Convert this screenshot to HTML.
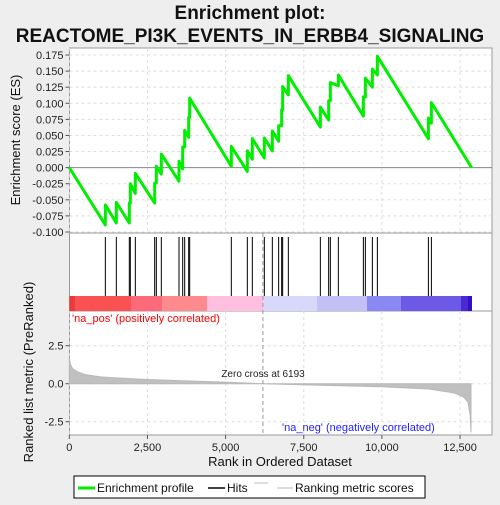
<!DOCTYPE html>
<html><head><meta charset="utf-8"><style>
body{margin:0;background:#eeeeee;}
svg{font-family:"Liberation Sans",sans-serif;}
</style></head><body>
<svg id="c" width="500" height="500"></svg>
<script>
const hitRanks=[1153,1504,1920,1952,2112,2731,2784,2944,3509,3627,3691,3819,3851,5183,5695,5855,6239,6495,6697,6793,6825,7007,8031,8297,8351,8607,9407,9471,9695,9855,11487,11583];
const esBefore=[-0.089,-0.086,-0.086,-0.055,-0.040,-0.055,-0.024,-0.010,-0.021,-0.002,0.032,0.047,0.078,0.002,-0.006,0.013,0.015,0.026,0.041,0.065,0.090,0.113,0.063,0.074,0.104,0.127,0.080,0.110,0.125,0.144,0.045,0.069];
const esAfter=[-0.058,-0.054,-0.055,-0.025,-0.009,-0.024,0.002,0.021,0.010,0.032,0.058,0.078,0.108,0.033,0.026,0.045,0.046,0.057,0.065,0.090,0.126,0.143,0.094,0.104,0.132,0.144,0.110,0.139,0.153,0.173,0.077,0.101];
const totalRanks=12870;
const metricRanks=[0,30,100,250,500,1000,1500,2500,3500,5000,6193,8000,10000,11500,12300,12600,12750,12820,12850];
const metricVals=[1.7,1.3,1.0,0.8,0.6,0.45,0.38,0.28,0.2,0.1,0,-0.1,-0.2,-0.35,-0.6,-0.85,-1.2,-2.0,-3.2];
const esTicks=[0.175,0.15,0.125,0.1,0.075,0.05,0.025,0,-0.025,-0.05,-0.075,-0.1];
const xTicks=[0,2500,5000,7500,10000,12500];
const xTickLabels=["0","2,500","5,000","7,500","10,000","12,500"];
const mTicks=[2.5,0,-2.5];
const mTickLabels=["2.5","0.0","-2.5"];

const NS="http://www.w3.org/2000/svg",svg=document.getElementById('c');
function el(t,a,p){const e=document.createElementNS(NS,t);for(const k in a)e.setAttribute(k,a[k]);(p||svg).appendChild(e);return e;}
const L=69.5,R=492;
const X=r=>69.3+r*0.03126;
const Y=v=>55+(0.175-v)*643.6;
const YM=v=>383.7-v*15.2;

let t=el('text',{x:250,y:19,'text-anchor':'middle','font-size':19,'font-weight':'bold',fill:'#111'});t.textContent='Enrichment plot:';

t=el('text',{x:250,y:42,'text-anchor':'middle','font-size':19,'font-weight':'bold',fill:'#111'});t.textContent='REACTOME_PI3K_EVENTS_IN_ERBB4_SIGNALING';


// panels
let p=el('rect',{x:L,y:48,width:R-L,height:185,fill:'#fff',stroke:'#999'});

p=el('rect',{x:L,y:233,width:R-L,height:78,fill:'#fff',stroke:'#999'});

p=el('rect',{x:L,y:311,width:R-L,height:124,fill:'#fff',stroke:'#999'});


// grids
xTicks.forEach(v=>{
 [[48,233],[311,435]].forEach(s=>{const g=el('line',{x1:X(v),x2:X(v),y1:s[0],y2:s[1],stroke:'#ddd','stroke-dasharray':'3,3'});});
});
esTicks.forEach(v=>{
 const g=el('line',{x1:L,x2:R,y1:Y(v),y2:Y(v),stroke:'#ddd','stroke-dasharray':'3,3'});
 const tk=el('line',{x1:L-4,x2:L,y1:Y(v),y2:Y(v),stroke:'#555'});
 const tl=el('text',{x:L-6,y:Y(v)+4,'text-anchor':'end','font-size':11,fill:'#222'});tl.textContent=v.toFixed(3);
 
});
let z=el('line',{x1:L,x2:R,y1:Y(0),y2:Y(0),stroke:'#888'});

// ES line
let pts=[[X(0),Y(0)]];
hitRanks.forEach((r,i)=>{pts.push([X(r),Y(esBefore[i])]);pts.push([X(r),Y(esAfter[i])]);});
pts.push([X(totalRanks),Y(0)]);
let es=el('polyline',{points:pts.map(q=>q.join(',')).join(' '),fill:'none',stroke:'#00ee00','stroke-width':3,'stroke-linejoin':'round'});


// hits
hitRanks.forEach(r=>{const h=el('line',{x1:X(r),x2:X(r),y1:237,y2:296,stroke:'#000','stroke-width':1});});

// color bar
const segs=[[69.3,75,'#e83c3c'],[75,131,'#fa5252'],[131,162,'#ff6a7a'],[162,207,'#ff8a8e'],[207,263,'#ffc0e0'],[263,317,'#d8d8fa'],[317,367,'#c2c0f4'],[367,401,'#8a88f2'],[401,461,'#6c5ae6'],[461,468,'#4a28d4'],[468,472,'#3510c2']];
segs.forEach(s=>{const b=el('rect',{x:s[0],y:296,width:s[1]-s[0],height:15,fill:s[2]});});
t=el('text',{x:72,y:322,'font-size':11,fill:'#f00'});t.textContent="'na_pos' (positively correlated)";


// metric
mTicks.forEach((v,i)=>{
 const g=el('line',{x1:L,x2:R,y1:YM(v),y2:YM(v),stroke:'#ddd','stroke-dasharray':'3,3'});
 const tk=el('line',{x1:L-4,x2:L,y1:YM(v),y2:YM(v),stroke:'#555'});
 const tl=el('text',{x:L-6,y:YM(v)+4,'text-anchor':'end','font-size':11,fill:'#222'});tl.textContent=mTickLabels[i];
 
});
let mp=[[X(0),YM(0)]];metricRanks.forEach((r,i)=>mp.push([X(r),YM(metricVals[i])]));mp.push([X(metricRanks[metricRanks.length-1]),YM(0)]);
let ma=el('polygon',{points:mp.map(q=>q.join(',')).join(' '),fill:'#c0c0c0',stroke:'#b8b8b8'});

let zc=el('line',{x1:X(6193),x2:X(6193),y1:233,y2:435,stroke:'#999','stroke-dasharray':'4,3'});

t=el('text',{x:263,y:377,'text-anchor':'middle','font-size':10,fill:'#222'});t.textContent='Zero cross at 6193';

t=el('text',{x:282,y:431,'font-size':11,fill:'#22f'});t.textContent="'na_neg' (negatively correlated)";


xTicks.forEach((v,i)=>{
 const tk=el('line',{x1:X(v),x2:X(v),y1:435,y2:439,stroke:'#555'});
 const tl=el('text',{x:X(v),y:451,'text-anchor':'middle','font-size':11,fill:'#222'});tl.textContent=xTickLabels[i];
 
});
t=el('text',{x:280,y:466,'text-anchor':'middle','font-size':13,fill:'#111'});t.textContent='Rank in Ordered Dataset';

t=el('text',{x:0,y:0,'text-anchor':'middle','font-size':13,fill:'#111',transform:'translate(20,140) rotate(-90)'});t.textContent='Enrichment score (ES)';

t=el('text',{x:0,y:0,'text-anchor':'middle','font-size':13,fill:'#111',transform:'translate(33,372) rotate(-90)'});t.textContent='Ranked list metric (PreRanked)';


// legend
let lg=el('rect',{x:74,y:476,width:351,height:22,fill:'#fff',stroke:'#000'});

let a=el('line',{x1:78,x2:95,y1:488,y2:488,stroke:'#00ee00','stroke-width':3});
t=el('text',{x:97,y:492,'font-size':12,fill:'#111'});t.textContent='Enrichment profile';
a=el('line',{x1:208,x2:225,y1:488,y2:488,stroke:'#000','stroke-width':1.5});
t=el('text',{x:227,y:492,'font-size':12,fill:'#111'});t.textContent='Hits';
a=el('line',{x1:254,x2:268,y1:483,y2:483,stroke:'#bbb'});
a=el('line',{x1:277,x2:293,y1:488,y2:488,stroke:'#bbb'});
t=el('text',{x:295,y:492,'font-size':12,fill:'#111'});t.textContent='Ranking metric scores';
</script>
</body></html>
